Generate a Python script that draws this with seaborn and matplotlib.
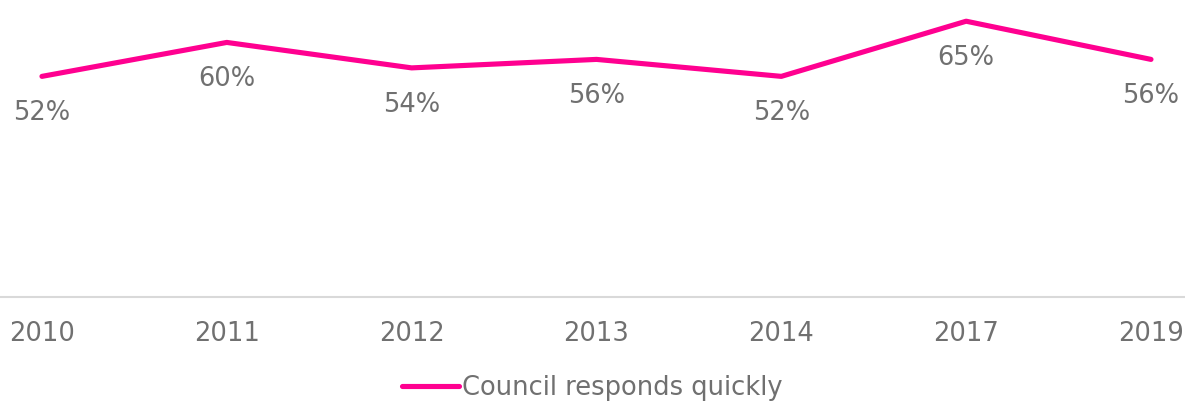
import pandas as pd
import matplotlib.pyplot as plt
import seaborn as sns

years = ['2010', '2011', '2012', '2013', '2014', '2017', '2019']
quick = [52, 60, 54, 56, 52, 65, 56]
series_name = 'Council responds quickly'

df = pd.DataFrame({'year': years, 'pct': quick, 'series': series_name})

sns.set_style('white')
plt.rcParams['font.family'] = ['DejaVu Sans']
grey = '#707070'
pink = '#FF0090'

fig = plt.figure(figsize=(11.85, 4.03), dpi=100)
ax = fig.add_axes([0, 106 / 403, 1, 297 / 403])

sns.lineplot(data=df, x='year', y='pct', hue='series', palette=[pink],
             linewidth=3.7, sort=False, ax=ax, legend=False)

for i, v in enumerate(quick):
    ax.annotate(f'{v}%', (i, v), xytext=(0, -37), textcoords='offset pixels',
                ha='center', va='center', fontsize=18.5, color=grey)

ax.set_xlim(-0.227, 6.184)
ax.set_ylim(0, 70)
ax.set_xlabel('')
ax.set_ylabel('')
ax.set_yticks([])
ax.tick_params(axis='x', length=0, pad=17, labelsize=18.5, labelcolor=grey)
for s in ['top', 'left', 'right']:
    ax.spines[s].set_visible(False)
ax.spines['bottom'].set_color('#d9d9d9')
ax.spines['bottom'].set_linewidth(1.5)

handle = plt.Line2D([], [], color=pink, linewidth=3.7, solid_capstyle='round')
leg = fig.legend([handle], [series_name], loc='center',
                 bbox_to_anchor=(0.5, 1 - 388 / 403), frameon=False,
                 fontsize=18.5, handlelength=2.2, handletextpad=0.15)
for t in leg.get_texts():
    t.set_color(grey)

fig.savefig('out.png', dpi=100)
